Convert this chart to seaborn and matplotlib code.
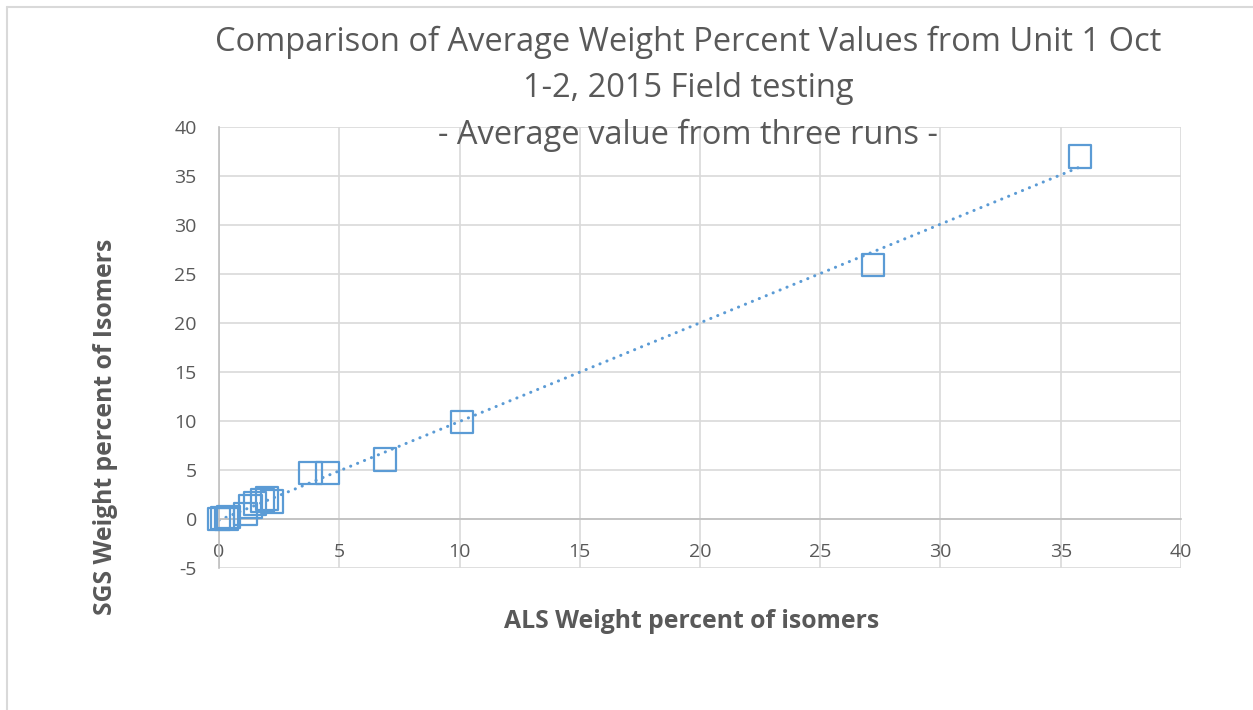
import numpy as np
import pandas as pd
import matplotlib
matplotlib.use("Agg")
import matplotlib.pyplot as plt
from matplotlib.lines import Line2D
import seaborn as sns

# Average weight percent of isomers
als_wt = [0.0, 0.15, 0.3, 0.4, 1.1, 1.3, 1.5, 1.8, 2.0, 2.2, 3.8, 4.5, 6.9, 10.1, 27.2, 35.8]
sgs_wt = [0.0, 0.1, 0.0, 0.2, 0.5, 1.3, 1.6, 1.9, 2.1, 1.8, 4.7, 4.7, 6.1, 9.9, 25.9, 37.0]

x_ticks = [0, 5, 10, 15, 20, 25, 30, 35, 40]
y_ticks = [-5, 0, 5, 10, 15, 20, 25, 30, 35, 40]

title = ("Comparison of Average Weight Percent Values from Unit 1 Oct\n"
         "1-2, 2015 Field testing\n"
         "- Average value from three runs -")

BLUE = "#5B9BD5"
GRAY_TXT = "#595959"

sns.set_theme(style="white")
plt.rcParams["font.family"] = ["Open Sans", "DejaVu Sans"]
plt.rcParams["axes.unicode_minus"] = False

df = pd.DataFrame({"ALS": als_wt, "SGS": sgs_wt})

fig = plt.figure(figsize=(12.53, 7.10), dpi=100)
ax = fig.add_axes([0.1748, 0.2, 0.9425 - 0.1748, 0.8211 - 0.2])

# linear trendline over the data range (Excel style)
slope, intercept = np.polyfit(df["ALS"], df["SGS"], 1)
fit_x = np.array([df["ALS"].min(), df["ALS"].max()])
fit = pd.DataFrame({"x": fit_x, "y": slope * fit_x + intercept})
sns.lineplot(data=fit, x="x", y="y", ax=ax, color=BLUE, linewidth=2.2,
             linestyle=(0, (0.05, 2.4)), dash_capstyle="round", zorder=2)

sns.scatterplot(data=df, x="ALS", y="SGS", ax=ax, marker="s", s=265,
                facecolors="none", edgecolor=BLUE, linewidth=1.6, zorder=3,
                clip_on=False)

ax.set_xlim(0, 40)
ax.set_ylim(-5, 40)
ax.set_xticks(x_ticks)
ax.set_yticks(y_ticks)
ax.grid(True, color="#D9D9D9", linewidth=1.2)
ax.set_axisbelow(True)

for side in ["top", "right"]:
    ax.spines[side].set_visible(False)
ax.spines["bottom"].set_position(("data", 0))
ax.spines["bottom"].set_color("#BFBFBF")
ax.spines["left"].set_color("#BFBFBF")
ax.spines["bottom"].set_linewidth(1.2)
ax.spines["left"].set_linewidth(1.2)

ax.tick_params(axis="both", length=0, labelsize=14, labelcolor=GRAY_TXT)
ax.tick_params(axis="x", pad=17)
ax.tick_params(axis="y", pad=16)

ax.set_xlabel("")
ax.set_ylabel("")
fig.text(0.552, 0.125, "ALS Weight percent of isomers", ha="center", va="center",
         fontsize=17.8, fontweight="bold", color=GRAY_TXT)
fig.text(0.084, 0.399, "SGS Weight percent of Isomers", ha="center", va="center",
         rotation=90, fontsize=17.8, fontweight="bold", color=GRAY_TXT)

fig.text(0.549, 0.875, title, ha="center", va="center", fontsize=23.5,
         color=GRAY_TXT, linespacing=1.54)

# chart area border
fig.add_artist(Line2D([7 / 1253, 7 / 1253], [0, 1 - 7 / 710],
                      transform=fig.transFigure, color="#D9D9D9", linewidth=1.5))
fig.add_artist(Line2D([7 / 1253, 1], [1 - 7 / 710, 1 - 7 / 710],
                      transform=fig.transFigure, color="#D9D9D9", linewidth=1.5))

fig.savefig("out.png", dpi=100)
